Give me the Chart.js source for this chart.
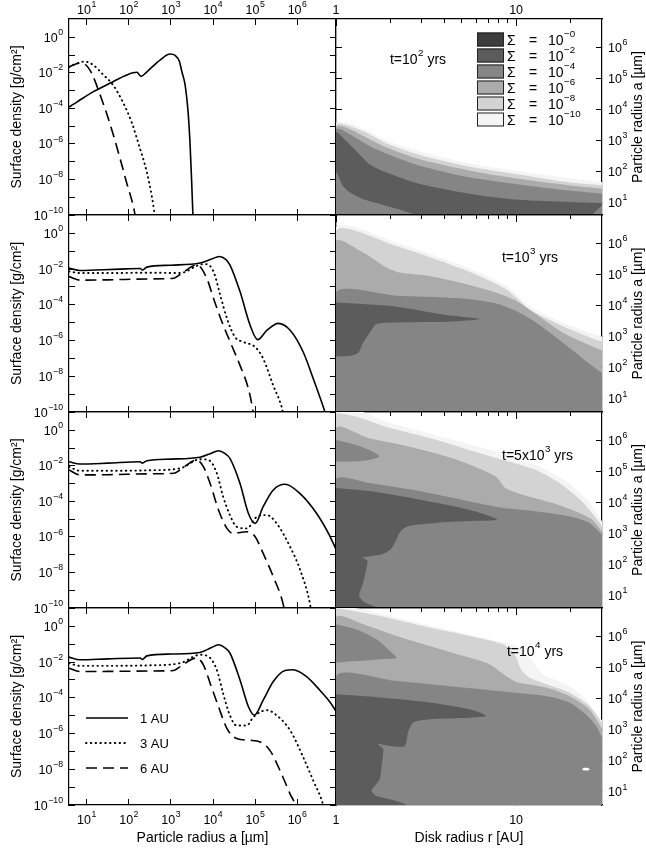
<!DOCTYPE html>
<html lang="en">
<head>
    <meta charset="UTF-8">
    <title>Dust surface density evolution</title>
    <script src="https://cdn.jsdelivr.net/npm/chart.js"></script>
    <style>
        body, html {
            margin: 0;
            background: #fff;
        }
        #page {
            position: relative;
            width: 646px;
            height: 850px;
            overflow: hidden;
            background: #fff;
        }
        #page canvas {
            position: absolute;
            left: 0;
        }
    </style>
</head>
<body>
    <div id="page"></div>
    <script>
        // ---- values (all pairs are [log10 x, log10 y]) ----

        // left column: surface density [g/cm^2] vs particle radius [um], one curve per disk radius
        const times = ['10^2', '10^3', '5x10^3', '10^4'];
        const timePrefix = ['', '', '5x', ''];
        const timeExp = ['2', '3', '3', '4'];
        const radii = ['1 AU', '3 AU', '6 AU'];

        const t1_1AU = [[0.58,-3.92],[0.70,-3.75],[0.84,-3.53],[1.16,-3.06],[1.55,-2.59],[1.95,-2.12],[2.19,-1.97],[2.29,-2.2],[2.43,-1.94],[2.74,-1.28],[2.98,-0.94],[3.10,-1.02],[3.20,-1.35],[3.26,-1.94],[3.33,-2.59],[3.37,-3.3],[3.41,-4.28],[3.45,-5.79],[3.49,-8.0],[3.53,-10.5]];
        const t1_3AU = [[0.58,-1.68],[0.75,-1.48],[0.96,-1.37],[1.15,-1.55],[1.39,-2.1],[1.63,-2.7],[1.87,-3.7],[2.07,-4.8],[2.27,-6.3],[2.43,-7.6],[2.55,-9.0],[2.63,-10.2],[2.66,-10.6]];
        const t1_6AU = [[0.58,-1.66],[0.84,-1.45],[1.0,-1.6],[1.12,-2.03],[1.32,-3.25],[1.55,-4.85],[1.79,-6.8],[1.95,-8.2],[2.11,-9.54],[2.17,-10.3],[2.19,-10.6]];

        const t2_1AU = [[0.58,-1.94],[0.84,-2.08],[1.2,-2.05],[1.8,-2.0],[2.27,-1.97],[2.32,-2.05],[2.43,-1.89],[3.0,-1.78],[3.69,-1.66],[3.95,-1.45],[4.15,-1.29],[4.30,-1.45],[4.40,-1.76],[4.64,-3.26],[4.88,-5.14],[5.06,-5.95],[5.28,-5.42],[5.55,-5.04],[5.83,-5.42],[6.14,-6.64],[6.38,-8.14],[6.66,-10.02],[6.72,-10.5]];
        const t2_3AU = [[0.58,-2.13],[0.84,-2.22],[1.5,-2.22],[2.5,-2.2],[3.22,-2.22],[3.69,-1.75],[3.83,-1.72],[4.01,-2.13],[4.17,-3.45],[4.33,-4.76],[4.52,-5.8],[4.72,-6.08],[5.0,-6.36],[5.19,-7.01],[5.43,-8.52],[5.63,-9.74],[5.7,-10.5]];
        const t2_6AU = [[0.58,-2.42],[0.84,-2.62],[1.5,-2.6],[2.5,-2.55],[3.07,-2.51],[3.22,-2.3],[3.62,-1.76],[3.85,-2.51],[4.01,-3.63],[4.21,-4.95],[4.44,-6.26],[4.64,-7.39],[4.84,-8.7],[4.94,-9.83],[4.98,-10.5]];

        const t3_1AU = [[0.58,-1.77],[0.84,-1.90],[1.5,-1.85],[2.27,-1.77],[2.32,-1.85],[2.43,-1.71],[3.0,-1.62],[3.69,-1.52],[3.95,-1.3],[4.13,-1.15],[4.28,-1.3],[4.40,-1.58],[4.64,-2.99],[4.84,-4.68],[5.0,-5.24],[5.19,-4.30],[5.43,-3.36],[5.71,-3.04],[6.06,-3.55],[6.46,-4.68],[6.74,-5.80],[6.92,-6.7]];
        const t3_3AU = [[0.58,-2.05],[0.84,-2.28],[1.5,-2.28],[2.5,-2.25],[3.22,-2.14],[3.69,-1.63],[3.89,-1.67],[4.09,-2.42],[4.24,-3.74],[4.40,-4.77],[4.56,-5.43],[4.80,-5.52],[5.04,-4.87],[5.28,-4.77],[5.51,-5.24],[5.83,-6.56],[6.07,-7.87],[6.30,-9.75],[6.35,-10.5]];
        const t3_6AU = [[0.58,-2.23],[0.84,-2.51],[1.5,-2.5],[2.5,-2.45],[3.07,-2.42],[3.22,-2.23],[3.61,-1.67],[3.77,-2.05],[3.93,-2.99],[4.13,-4.49],[4.33,-5.52],[4.48,-5.80],[4.80,-5.71],[5.0,-5.99],[5.19,-6.93],[5.43,-8.24],[5.67,-9.84],[5.72,-10.5]];

        const t4_1AU = [[0.58,-1.72],[0.84,-1.87],[1.5,-1.82],[2.27,-1.77],[2.32,-1.85],[2.43,-1.65],[3.0,-1.55],[3.69,-1.46],[3.95,-1.2],[4.13,-1.03],[4.28,-1.2],[4.40,-1.49],[4.64,-3.0],[4.84,-4.50],[4.98,-4.97],[5.19,-4.13],[5.43,-3.09],[5.71,-2.47],[5.90,-2.43],[6.22,-2.81],[6.53,-3.56],[6.77,-4.22],[6.92,-4.75]];
        const t4_3AU = [[0.58,-2.06],[0.84,-2.21],[1.5,-2.21],[2.5,-2.18],[3.22,-2.06],[3.69,-1.59],[3.89,-1.69],[4.09,-2.44],[4.24,-3.76],[4.40,-4.98],[4.56,-5.55],[4.80,-5.55],[4.96,-5.07],[5.28,-4.69],[5.51,-4.98],[5.83,-5.82],[6.14,-7.32],[6.38,-8.64],[6.61,-9.96],[6.66,-10.5]];
        const t4_6AU = [[0.58,-2.34],[0.84,-2.53],[1.5,-2.52],[2.5,-2.5],[3.07,-2.47],[3.22,-2.25],[3.61,-1.77],[3.77,-2.15],[3.93,-3.18],[4.13,-4.50],[4.33,-5.72],[4.56,-6.28],[4.88,-6.38],[5.12,-6.47],[5.35,-6.94],[5.59,-8.07],[5.83,-9.39],[5.95,-10.05],[5.98,-10.5]];

        // right column: contour regions Sigma >= level, outlines as [log10 r(AU), log10 a(um)]
        const levelExp = [0, -2, -4, -6, -8, -10];

        const k1_10 = [[1.5,0.55],[0,0.55],[0,3.54],[0.083,3.52],[0.184,3.28],[0.277,3.00],[0.461,2.64],[0.738,2.25],[1.015,1.99],[1.291,1.78],[1.5,1.63]];
        const k1_8 = [[1.5,0.55],[0,0.55],[0,3.50],[0.074,3.46],[0.184,3.20],[0.277,2.90],[0.461,2.53],[0.738,2.15],[1.015,1.89],[1.291,1.64],[1.5,1.53]];
        const k1_6 = [[1.5,0.55],[0,0.55],[0,3.43],[0.055,3.41],[0.184,3.04],[0.277,2.77],[0.461,2.39],[0.738,2.02],[1.015,1.75],[1.291,1.54],[1.5,1.42]];
        const k1_4 = [[1.5,0.55],[0,0.55],[0,3.36],[0.046,3.30],[0.184,2.82],[0.277,2.57],[0.461,2.18],[0.738,1.80],[1.015,1.57],[1.291,1.37],[1.5,1.26]];
        const k1_2 = [[1.5,0.55],[0,0.55],[0,3.25],[0.055,2.98],[0.111,2.66],[0.184,2.23],[0.277,1.96],[0.461,1.59],[0.738,1.27],[1.015,1.07],[1.291,1.00],[1.5,0.96]];
        const k1_4b = [[0.46,0.55],[0,0.55],[0,1.96],[0.04,1.5],[0.08,1.3],[0.15,1.1],[0.34,0.78]];
        const k1_4c = [[1.5,0.55],[1.42,0.55],[1.5,1.0]];

        const k2_10 = [[1.5,0.55],[0,0.55],[0,6.51],[0.336,6.03],[0.705,5.28],[0.944,4.64],[1.073,4.0],[1.258,3.46],[1.461,3.03],[1.5,2.98]];
        const k2_8 = [[1.5,0.55],[0,0.55],[0,6.41],[0.336,5.92],[0.705,5.17],[0.944,4.53],[1.073,3.89],[1.258,3.35],[1.461,2.87],[1.5,2.84]];
        const k2_6 = [[1.5,0.55],[0,0.55],[0,6.08],[0.151,5.71],[0.28,5.23],[0.354,5.07],[0.52,4.96],[0.705,4.72],[0.889,4.42],[1.0,4.16],[1.11,3.73],[1.258,3.14],[1.461,2.60],[1.5,2.55]];
        const k2_4 = [[1.5,0.55],[0,0.55],[0,4.42],[0.336,4.32],[0.705,4.23],[0.889,4.07],[1.0,3.83],[1.11,3.46],[1.258,2.82],[1.461,1.90],[1.5,1.8]];
        const k2_2 = [[0,4.10],[0.336,3.97],[0.612,3.70],[0.797,3.57],[0.612,3.48],[0.336,3.46],[0.225,3.41],[0.188,3.14],[0.151,2.82],[0.124,2.49],[0.078,2.39],[0,2.37]];

        const k3_10 = [[1.5,0.55],[0,0.55],[0,7.0],[0.111,7.0],[0.277,6.60],[0.553,6.17],[0.830,5.74],[1.107,5.21],[1.291,4.62],[1.402,4.03],[1.476,3.39],[1.5,3.1]];
        const k3_8 = [[1.5,0.55],[0,0.55],[0,6.87],[0.111,6.77],[0.277,6.44],[0.553,6.02],[0.830,5.53],[1.107,5.05],[1.254,4.57],[1.365,4.03],[1.457,3.39],[1.5,3.0]];
        const k3_6 = [[1.5,0.55],[0,0.55],[0,6.39],[0.184,6.07],[0.369,5.85],[0.646,5.42],[0.885,4.84],[0.941,4.46],[1.033,4.25],[1.199,3.98],[1.328,3.71],[1.42,3.45],[1.476,3.07],[1.5,2.95]];
        const k3_4t = [[0,6.01],[0.111,5.85],[0.203,5.64],[0.24,5.48],[0.184,5.37],[0.092,5.32],[0,5.32]];
        const k3_4 = [[1.5,0.55],[0,0.55],[0,4.73],[0.184,4.62],[0.461,4.36],[0.738,4.03],[0.922,3.82],[1.107,3.71],[1.291,3.55],[1.402,3.35],[1.476,2.96],[1.5,2.9]];
        const k3_2 = [[0,4.46],[0.184,4.36],[0.461,4.09],[0.738,3.76],[0.895,3.44],[0.738,3.39],[0.553,3.33],[0.406,3.23],[0.36,3.07],[0.332,2.75],[0.304,2.48],[0.258,2.32],[0.148,2.21],[0.175,2.11],[0.166,1.78],[0.148,1.35],[0.129,0.98],[0.157,0.77],[0.24,0.55],[0,0.55]];

        const k4_10 = [[1.5,0.55],[0,0.55],[0,6.95],[0.114,6.91],[0.336,6.61],[0.612,6.23],[0.852,5.91],[1.0,5.70],[1.074,5.32],[1.147,4.79],[1.258,4.52],[1.369,4.09],[1.443,3.56],[1.5,3.13]];
        const k4_8 = [[1.5,0.55],[0,0.55],[0,6.90],[0.243,6.66],[0.52,6.29],[0.742,6.02],[0.926,5.75],[0.991,5.43],[1.027,4.95],[1.074,4.68],[1.166,4.47],[1.295,4.20],[1.406,3.77],[1.5,3.02]];
        const k4_6 = [[1.5,0.55],[0,0.55],[0,6.61],[0.151,6.40],[0.336,6.02],[0.52,5.70],[0.705,5.38],[0.852,5.11],[0.944,4.73],[1.0,4.54],[1.166,4.36],[1.295,4.09],[1.406,3.66],[1.5,2.80]];
        const k4_4t = [[0,6.40],[0.114,6.23],[0.225,5.91],[0.308,5.49],[0.336,5.32],[0.243,5.27],[0.114,5.21],[0,5.16]];
        const k4_4 = [[1.5,0.55],[0,0.55],[0,4.73],[0.336,4.57],[0.705,4.36],[0.981,4.20],[1.166,4.09],[1.295,3.88],[1.387,3.50],[1.443,3.13],[1.5,2.48]];
        const k4_2 = [[0,4.14],[0.243,4.04],[0.52,3.88],[0.742,3.66],[0.834,3.45],[0.742,3.39],[0.52,3.34],[0.428,3.23],[0.40,2.91],[0.382,2.48],[0.299,2.48],[0.234,2.54],[0.262,2.38],[0.253,1.84],[0.243,1.41],[0.197,1.04],[0.225,0.87],[0.336,0.71],[0.4,0.55],[0,0.55]];
        const k4_hole = [[1.365,1.73],[1.376,1.77],[1.398,1.77],[1.41,1.73],[1.398,1.69],[1.376,1.69]];

        // axis ranges and tick values
        const A_MIN = 3.8, A_MAX = 8.3e6;
        const S_MIN = 1e-10, S_MAX = 10.7;
        const R_MIN = 1, R_MAX = 30;
        const aTicks = [1e1, 1e2, 1e3, 1e4, 1e5, 1e6];
        const sTicks = [1e-10, 1e-9, 1e-8, 1e-7, 1e-6, 1e-5, 1e-4, 1e-3, 1e-2, 1e-1, 1];
        const rMajor = [1, 10];
        const rMinor = [2, 3, 4, 5, 6, 7, 8, 9, 20];

        // ---- styling / layout ----
        const FONT = '"Liberation Sans", Arial, Helvetica, sans-serif';
        Chart.defaults.font.family = FONT;
        Chart.defaults.color = '#000';

        const greys = { '0': '#3d3d3d', '-2': '#5c5c5c', '-4': '#858585', '-6': '#ababab', '-8': '#d3d3d3', '-10': '#f4f4f4', hole: '#ffffff' };
        const lineStyles = [
            { borderDash: [], borderWidth: 1.6, borderCapStyle: 'butt' },
            { borderDash: [0.5, 4.3], borderWidth: 1.9, borderCapStyle: 'round' },
            { borderDash: [11, 6], borderWidth: 1.6, borderCapStyle: 'butt' }
        ];

        const leftCurves = [[t1_1AU, t1_3AU, t1_6AU], [t2_1AU, t2_3AU, t2_6AU], [t3_1AU, t3_3AU, t3_6AU], [t4_1AU, t4_3AU, t4_6AU]];
        const contourPaint = [
            [[k1_10, '-10'], [k1_8, '-8'], [k1_6, '-6'], [k1_4, '-4'], [k1_2, '-2'], [k1_4b, '-4'], [k1_4c, '-4']],
            [[k2_10, '-10'], [k2_8, '-8'], [k2_6, '-6'], [k2_4, '-4'], [k2_2, '-2']],
            [[k3_10, '-10'], [k3_8, '-8'], [k3_6, '-6'], [k3_4t, '-4'], [k3_4, '-4'], [k3_2, '-2']],
            [[k4_10, '-10'], [k4_8, '-8'], [k4_6, '-6'], [k4_4t, '-4'], [k4_4, '-4'], [k4_2, '-2'], [k4_hole, 'hole']]
        ];

        const rowTop = [19, 215, 412, 608];
        const rowBottom = [215, 412, 608, 805];
        const TOP_PAD = 19, BOTTOM_PAD = 45;

        const toXY = pts => pts.map(([lx, ly]) => ({ x: 10 ** lx, y: 10 ** ly }));

        // text with superscripts: parts = [[text, isSup], ...]
        function supText(ctx, parts, x, y, align, size) {
            const supSize = size * 0.7, rise = size * 0.55;
            const widths = parts.map(([t, sup]) => {
                ctx.font = (sup ? supSize : size) + 'px ' + FONT;
                return ctx.measureText(t).width + (sup ? 0.5 : 0);
            });
            const total = widths.reduce((a, b) => a + b, 0);
            let cx = align === 'right' ? x - total : align === 'center' ? x - total / 2 : x;
            ctx.save();
            ctx.fillStyle = '#000';
            ctx.textAlign = 'left';
            ctx.textBaseline = 'alphabetic';
            parts.forEach(([t, sup], i) => {
                ctx.font = (sup ? supSize : size) + 'px ' + FONT;
                ctx.fillText(t, cx + (sup ? 0.5 : 0), sup ? y - rise : y);
                cx += widths[i];
            });
            ctx.restore();
        }

        function powParts(v) {
            const e = Math.round(Math.log10(v));
            return [['10', false], [String(e).replace('-', '\u2212'), true]];
        }

        // scale.ticks labels with real superscripts
        function tickLabels(chart, id, plain, skip) {
            const s = chart.scales[id];
            const a = chart.chartArea;
            s.ticks.forEach(t => {
                const e = Math.round(Math.log10(t.value));
                if (skip && skip(e)) return;
                const p = s.getPixelForValue(t.value);
                const parts = plain ? [[String(t.value), false]] : powParts(t.value);
                if (s.isHorizontal()) {
                    const y = s.position === 'top' ? a.top - 5 : a.bottom + 19;
                    supText(chart.ctx, parts, p, y, 'center', 12.5);
                } else if (s.position === 'left') {
                    supText(chart.ctx, parts, a.left - 6, p + 4.5, 'right', 12.5);
                } else {
                    supText(chart.ctx, parts, a.right + 6, p + 4.5, 'left', 12.5);
                }
            });
        }

        function axis(position, min, max, values, size, tickLen, weight) {
            return {
                type: 'logarithmic',
                position: position,
                min: min,
                max: max,
                weight: weight || 0,
                afterBuildTicks: s => { s.ticks = values.map(v => ({ value: v })); },
                afterFit: s => { if (s.isHorizontal()) s.height = size; else s.width = size; },
                ticks: { display: false },
                grid: { drawOnChartArea: false, drawTicks: true, tickLength: -tickLen, tickColor: '#000', tickWidth: 1 },
                border: { display: true, color: '#000', width: 1.2 }
            };
        }

        const page = document.getElementById('page');
        function makeCanvas(row) {
            const c = document.createElement('canvas');
            const h = rowBottom[row] - rowTop[row] + TOP_PAD + BOTTOM_PAD;
            c.width = 646;
            c.height = h;
            c.style.top = (rowTop[row] - TOP_PAD) + 'px';
            c.style.width = '646px';
            c.style.height = h + 'px';
            page.appendChild(c);
            return c;
        }

        const baseOptions = {
            responsive: false,
            animation: false,
            events: [],
            devicePixelRatio: 1,
            layout: { padding: 0, autoPadding: false },
            plugins: { legend: { display: false }, tooltip: { enabled: false } }
        };

        // ---- left column: surface density profiles ----
        function leftChart(row) {
            const last = row === 3;
            const x = axis('bottom', A_MIN, A_MAX, aTicks, BOTTOM_PAD, 6);
            x.title = { display: last, text: 'Particle radius a [\u00b5m]', font: { size: 14 }, padding: { top: 0, bottom: 3 } };
            const y = axis('left', S_MIN, S_MAX, sTicks, 69, 6);
            y.title = { display: true, text: 'Surface density [g/cm\u00b2]', font: { size: 14 }, padding: { top: 9, bottom: 0 } };

            const datasets = leftCurves[row].map((c, i) => Object.assign({
                label: radii[i],
                data: toXY(c),
                borderColor: '#000',
                pointRadius: 0,
                fill: false,
                clip: 0,
                cubicInterpolationMode: 'monotone',
                xAxisID: 'x',
                yAxisID: 'y'
            }, lineStyles[i]));

            new Chart(makeCanvas(row), {
                type: 'line',
                data: { datasets: datasets },
                options: Object.assign({}, baseOptions, {
                    scales: {
                        x: x,
                        xt: axis('top', A_MIN, A_MAX, aTicks, TOP_PAD, 6),
                        y: y,
                        yr: axis('right', S_MIN, S_MAX, sTicks, 646 - 336, 6)
                    }
                }),
                plugins: [{
                    id: 'leftDecor',
                    afterDraw(chart) {
                        const ctx = chart.ctx, a = chart.chartArea;
                        tickLabels(chart, 'y', false, e => e % 2 !== 0);
                        if (row === 0) tickLabels(chart, 'xt', false);
                        if (last) {
                            tickLabels(chart, 'x', false);
                            // line legend
                            chart.data.datasets.forEach((ds, i) => {
                                const yy = a.top + 110 + 25 * i;
                                ctx.save();
                                ctx.strokeStyle = '#000';
                                ctx.lineWidth = ds.borderWidth;
                                ctx.lineCap = ds.borderCapStyle;
                                ctx.setLineDash(ds.borderDash);
                                ctx.beginPath();
                                ctx.moveTo(a.left + 17, yy);
                                ctx.lineTo(a.left + 59, yy);
                                ctx.stroke();
                                ctx.restore();
                                supText(ctx, [[ds.label, false]], a.left + 71, yy + 4.5, 'left', 13);
                            });
                        }
                    }
                }]
            });
        }

        // ---- right column: filled Sigma(r, a) contours ----
        const titlePos = [[82, 45], [194, 47], [201.5, 47.5], [199, 47.5]];

        function rightChart(row) {
            const last = row === 3;
            const x = axis('bottom', R_MIN, R_MAX, rMajor, BOTTOM_PAD, 7);
            x.title = { display: last, text: 'Disk radius r [AU]', font: { size: 14 }, padding: { top: 0, bottom: 3 } };

            const datasets = contourPaint[row].map(([pts, lvl]) => ({
                data: toXY(pts),
                fill: 'shape',
                backgroundColor: greys[lvl],
                borderColor: 'rgba(0,0,0,0)',
                borderWidth: 0,
                pointRadius: 0,
                tension: 0.25,
                xAxisID: 'x',
                yAxisID: 'y'
            })).reverse();

            new Chart(makeCanvas(row), {
                type: 'line',
                data: { datasets: datasets },
                options: Object.assign({}, baseOptions, {
                    scales: {
                        xm: Object.assign(axis('bottom', R_MIN, R_MAX, rMinor, 0, 4, -1), { border: { display: false } }),
                        x: x,
                        xtm: Object.assign(axis('top', R_MIN, R_MAX, rMinor, 0, 4, -1), { border: { display: false } }),
                        xt: axis('top', R_MIN, R_MAX, rMajor, TOP_PAD, 7),
                        y: axis('left', A_MIN, A_MAX, aTicks, 336, 6),
                        yr: axis('right', A_MIN, A_MAX, aTicks, 646 - 602, 6)
                    }
                }),
                plugins: [{
                    id: 'rightDecor',
                    afterDraw(chart) {
                        const ctx = chart.ctx, a = chart.chartArea;
                        tickLabels(chart, 'yr', false);
                        if (row === 0) tickLabels(chart, 'xt', true);
                        if (last) tickLabels(chart, 'x', true);

                        // right axis title, reading bottom to top
                        ctx.save();
                        ctx.translate(638.5, (a.top + a.bottom) / 2);
                        ctx.rotate(-Math.PI / 2);
                        ctx.font = '14px ' + FONT;
                        ctx.fillStyle = '#000';
                        ctx.textAlign = 'center';
                        ctx.textBaseline = 'middle';
                        ctx.fillText('Particle radius a [\u00b5m]', 0, 0);
                        ctx.restore();

                        // time stamp
                        const [tx, ty] = titlePos[row];
                        supText(ctx, [['t=' + timePrefix[row] + '10', false], [timeExp[row], true], [' yrs', false]],
                            a.left + tx, a.top + ty, 'center', 14);

                        // level legend
                        if (row === 0) {
                            levelExp.forEach((e, k) => {
                                const by = a.top + 13.5 + 16 * k;
                                ctx.save();
                                ctx.fillStyle = greys[String(e)];
                                ctx.fillRect(a.left + 141, by, 27, 14);
                                ctx.strokeStyle = '#222';
                                ctx.lineWidth = 1;
                                ctx.strokeRect(a.left + 141.5, by + 0.5, 26, 13);
                                ctx.restore();
                                supText(ctx, [['\u03a3', false]], a.left + 171, by + 12, 'left', 14);
                                supText(ctx, [['=', false]], a.left + 193, by + 12, 'left', 14);
                                supText(ctx, [['10', false], ['\u2212' + Math.abs(e), true]], a.left + 212, by + 12, 'left', 14);
                            });
                        }
                    }
                }]
            });
        }

        for (let r = 0; r < 4; r++) {
            leftChart(r);
            rightChart(r);
        }
    </script>
</body>
</html>
